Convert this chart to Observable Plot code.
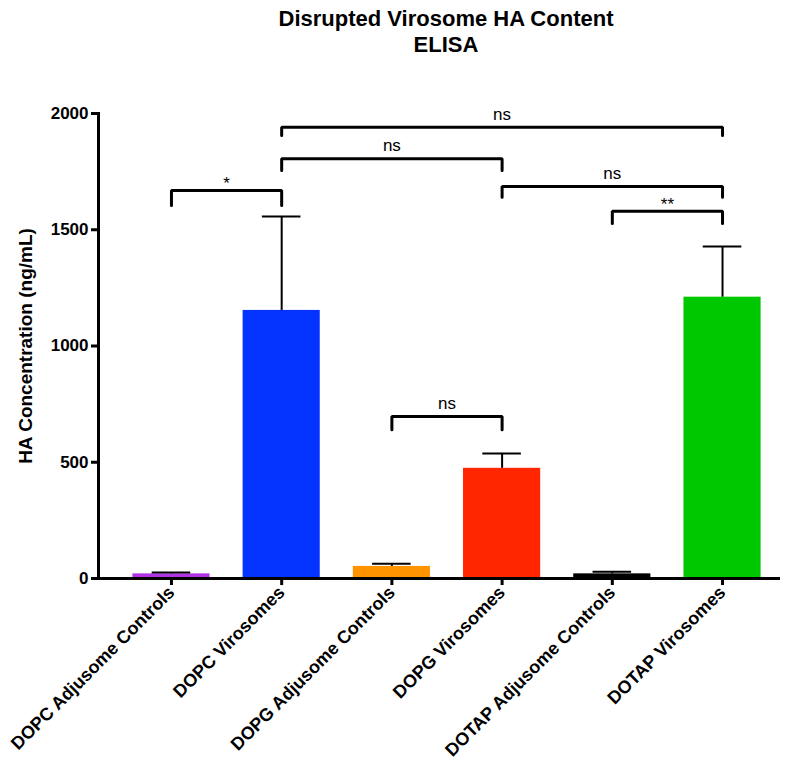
<!DOCTYPE html>
<html><head><meta charset="utf-8">
<script src="https://cdn.jsdelivr.net/npm/d3@7"></script>
<script src="https://cdn.jsdelivr.net/npm/@observablehq/plot@0.6"></script>
<style>
body{margin:0;background:#fff;font-family:"Liberation Sans",Arial,Helvetica,sans-serif;}
#title{height:65px;position:relative;color:#000;}
#title div{position:absolute;left:446px;transform:translateX(-50%);white-space:nowrap;font-weight:bold;font-size:22px;line-height:26px;}
</style></head><body>
<div id="title"><div style="top:6px">Disrupted Virosome HA Content</div><div style="top:32px">ELISA</div></div>
<div id="chart"></div>
<script>
const categories = ["DOPC Adjusome Controls","DOPC Virosomes","DOPG Adjusome Controls","DOPG Virosomes","DOTAP Adjusome Controls","DOTAP Virosomes"];
const means = [20, 1153, 52, 474, 20, 1210];
const upperErrors = [26, 1557, 63, 538, 29, 1428];
const barColors = ["#b034e6","#0433ff","#ff9300","#ff2600","#000000","#00c800"];
const yTicks = [0, 500, 1000, 1500, 2000];
const yLabel = "HA Concentration (ng/mL)";

const bracketFrom = ["DOPC Adjusome Controls","DOPC Virosomes","DOPC Virosomes","DOPG Virosomes","DOTAP Adjusome Controls","DOPG Adjusome Controls"];
const bracketTo = ["DOPC Virosomes","DOTAP Virosomes","DOPG Virosomes","DOTAP Virosomes","DOTAP Virosomes","DOPG Virosomes"];
const bracketLevel = [1669, 1941, 1805, 1686, 1580, 697];
const bracketLeg = [1604, 1905, 1755, 1640, 1527, 640];
const bracketLabels = ["*","ns","ns","ns","**","ns"];

const data = categories.map((c, i) => ({i, name: c, mean: means[i], upper: upperErrors[i], color: barColors[i]}));
const brackets = bracketLabels.map((t, k) => ({
  k, label: t,
  a: categories.indexOf(bracketFrom[k]), b: categories.indexOf(bracketTo[k]),
  level: bracketLevel[k], leg: bracketLeg[k]
}));
const bracketPts = brackets.flatMap(d => [
  {k: d.k, x: d.a, y: d.leg}, {k: d.k, x: d.a, y: d.level},
  {k: d.k, x: d.b, y: d.level}, {k: d.k, x: d.b, y: d.leg}
]);
const half = 0.35;

const chart = Plot.plot({
  width: 788, height: 695,
  marginTop: 48, marginBottom: 182, marginLeft: 98, marginRight: 8,
  style: {fontFamily: '"Liberation Sans", Arial, Helvetica, sans-serif', color: "#000", background: "#fff"},
  x: {domain: [-0.662, 5.526]},
  y: {domain: [0, 2000]},
  marks: [
    Plot.rectY(data, {x1: d => d.i - half, x2: d => d.i + half, y: "mean", fill: d => d.color}),
    Plot.ruleX(data, {x: "i", y1: "mean", y2: "upper", strokeWidth: 2, stroke: "#000"}),
    Plot.ruleY(data, {y: "upper", x1: d => d.i - half / 2, x2: d => d.i + half / 2, strokeWidth: 2, stroke: "#000"}),
    Plot.line(bracketPts, {x: "x", y: "y", z: "k", stroke: "#000", strokeWidth: 3, strokeLinejoin: "miter", strokeLinecap: "round"}),
    Plot.text(brackets.filter(d => d.label === "ns"), {x: d => (d.a + d.b) / 2, y: "level", text: "label", dy: -13, fontSize: 17, fill: "#000"}),
    Plot.text(brackets.filter(d => d.label !== "ns"), {x: d => (d.a + d.b) / 2, y: "level", text: "label", dy: -7, fontSize: 17, fill: "#000"}),
    Plot.axisY({ticks: yTicks, tickFormat: d => String(d), tickSize: 7, tickPadding: 3, strokeWidth: 3, fontSize: 17, fontWeight: "bold", label: null}),
    Plot.axisY({ticks: [], tickSize: 0, label: yLabel, labelAnchor: "center", labelArrow: "none", labelOffset: 80, fontSize: 19, fontWeight: "bold"}),
    Plot.axisX({ticks: categories.map((_, i) => i), tickFormat: i => categories[i], tickRotate: -45,
      tickSize: 7, tickPadding: 4, strokeWidth: 3, fontSize: 18, fontWeight: "bold", label: null}),
    Plot.frame({anchor: "left", strokeWidth: 3, stroke: "#000"}),
    Plot.ruleY([0], {strokeWidth: 3, stroke: "#000"})
  ]
});
document.getElementById("chart").appendChild(chart);
</script>
</body></html>
